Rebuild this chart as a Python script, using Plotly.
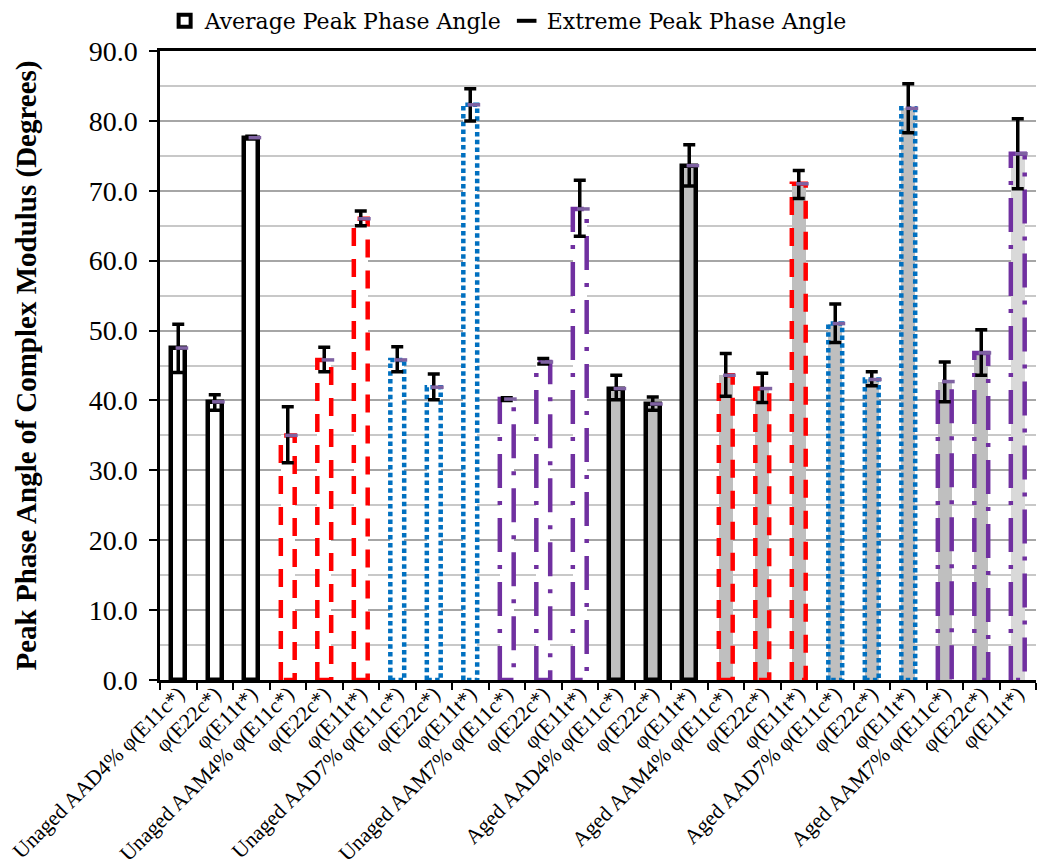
import plotly.graph_objects as go

# Sample groups (three phase-angle measures each)
groups = ["Unaged AAD4%", "Unaged AAM4%", "Unaged AAD7%", "Unaged AAM7%",
          "Aged AAD4%", "Aged AAM4%", "Aged AAD7%", "Aged AAM7%"]
measures = ["φ(E11c*)", "φ(E22c*)", "φ(E11t*)"]

categories = [
    "Unaged AAD4% φ(E11c*)", "φ(E22c*)", "φ(E11t*)",
    "Unaged AAM4% φ(E11c*)", "φ(E22c*)", "φ(E11t*)",
    "Unaged AAD7% φ(E11c*)", "φ(E22c*)", "φ(E11t*)",
    "Unaged AAM7% φ(E11c*)", "φ(E22c*)", "φ(E11t*)",
    "Aged AAD4% φ(E11c*)", "φ(E22c*)", "φ(E11t*)",
    "Aged AAM4% φ(E11c*)", "φ(E22c*)", "φ(E11t*)",
    "Aged AAD7% φ(E11c*)", "φ(E22c*)", "φ(E11t*)",
    "Aged AAM7% φ(E11c*)", "φ(E22c*)", "φ(E11t*)",
]

# Average peak phase angle (degrees)
average = [47.5, 39.8, 77.6, 35.0, 45.8, 66.0,
           45.8, 41.9, 82.3, 40.2, 45.5, 67.4,
           41.7, 39.5, 73.6, 43.6, 41.7, 71.0,
           51.0, 43.0, 81.8, 42.7, 46.8, 75.3]
# Extreme (max / min) peak phase angle (degrees)
extreme_max = [50.9, 40.8, 77.8, 39.1, 47.6, 67.1,
               47.7, 43.8, 84.6, 40.4, 46.0, 71.5,
               43.6, 40.5, 76.6, 46.7, 43.9, 72.9,
               53.8, 44.1, 85.3, 45.5, 50.1, 80.3]
extreme_min = [44.0, 38.6, 77.4, 31.1, 44.1, 65.0,
               44.1, 40.1, 80.0, 40.0, 45.2, 63.5,
               40.1, 38.6, 70.7, 40.6, 39.7, 68.9,
               48.3, 42.1, 78.3, 39.8, 43.6, 70.3]

# ---- styling ----
FONT = "Liberation Serif"
FONT_FLAT = "DejaVu Serif"
BAR_W = 0.38
EDGE_W = 4.5
border_style = {  # by binder type
    "AAD4%": dict(color="black", dash="solid"),
    "AAM4%": dict(color="#FF0000", dash="18px,13px"),
    "AAD7%": dict(color="#0070C0", dash="4.5px,3.3px"),
    "AAM7%": dict(color="#7030A0", dash="34px,13px,4px,13px"),
}
fill_unaged = "white"
fill_aged = "#BFBFBF"
fill_last = "#D9D9D9"

n = len(categories)
pos = list(range(n))
group_of = [groups[i // len(measures)] for i in pos]
binder_of = [g.split()[1] for g in group_of]

fills = []
for i in pos:
    if group_of[i].startswith("Unaged"):
        fills.append(fill_unaged)
    else:
        fills.append(fill_aged)
fills[-1] = fill_last

solid = [border_style[b]["dash"] == "solid" for b in binder_of]
line_w = [EDGE_W if s else 0 for s in solid]

fig = go.Figure()

fig.add_trace(go.Bar(
    x=pos, y=average, width=BAR_W,
    marker=dict(color=fills, line=dict(color="black", width=line_w)),
    name="Average Peak Phase Angle", showlegend=False,
    hoverinfo="skip",
))

# dashed / dotted outlines drawn as closed paths around the bars
for binder, st in border_style.items():
    if st["dash"] == "solid":
        continue
    xs, ys = [], []
    for i in pos:
        if binder_of[i] != binder:
            continue
        x0, x1 = i - BAR_W / 2, i + BAR_W / 2
        v = average[i]
        xs += [x0, x0, x1, x1, x0, None]
        ys += [0, v, v, 0, 0, None]
    fig.add_trace(go.Scatter(
        x=xs, y=ys, mode="lines",
        line=dict(color=st["color"], width=EDGE_W, dash=st["dash"]),
        showlegend=False, hoverinfo="skip",
    ))

# extreme range as error bars
fig.add_trace(go.Scatter(
    x=pos, y=average, mode="markers",
    marker=dict(size=2, opacity=0),
    error_y=dict(type="data", symmetric=False,
                 array=[h - a for h, a in zip(extreme_max, average)],
                 arrayminus=[a - l for l, a in zip(extreme_min, average)],
                 color="black", thickness=3.5, width=6),
    showlegend=False, hoverinfo="skip",
))

# average markers
fig.add_trace(go.Scatter(
    x=[p + 0.1 for p in pos], y=average, mode="markers",
    marker=dict(symbol="line-ew", size=9, line=dict(color="#7F62A2", width=3.5)),
    showlegend=False, hoverinfo="skip",
))

# legend entries
fig.add_trace(go.Scatter(
    x=[None], y=[None], mode="markers",
    marker=dict(symbol="square", size=12, color="white",
                line=dict(color="black", width=4)),
    name="Average Peak Phase Angle",
))
fig.add_trace(go.Scatter(
    x=[None], y=[None], mode="markers",
    marker=dict(symbol="line-ew", size=14, line=dict(color="black", width=4)),
    name="Extreme Peak Phase Angle",
))

fig.update_layout(
    width=1037, height=867, autosize=False,
    margin=dict(l=160, r=1, t=51, b=187, autoexpand=False),
    plot_bgcolor="white", paper_bgcolor="white",
    font=dict(family=FONT, color="black"),
    showlegend=True,
    legend=dict(orientation="h", x=0.49, xanchor="center", xref="container",
                y=1.0, yanchor="top", yref="container",
                font=dict(size=22, family=FONT_FLAT), bgcolor="rgba(0,0,0,0)",
                tracegroupgap=0),
    bargap=0,
)

fig.update_xaxes(
    range=[-0.5, n - 0.5], automargin=False,
    tickmode="array", tickvals=pos, ticktext=categories,
    tickangle=-45, ticks="", tickfont=dict(size=21.5, family=FONT),
    ticklabeloverflow="allow", ticklabelstandoff=-10,
    showline=True, linecolor="black", linewidth=2.5, mirror=True,
    showgrid=False, zeroline=False,
    minor=dict(tickmode="array", tickvals=[p - 0.5 for p in pos] + [n - 0.5],
               ticks="outside", ticklen=7, tickwidth=2, tickcolor="black",
               showgrid=False),
)

fig.update_yaxes(
    range=[0, 90], tick0=0, dtick=10, tickformat=".1f", automargin=False,
    ticks="outside", ticklen=8, tickwidth=2, tickcolor="black",
    tickangle=-0.01, tickfont=dict(size=28, family=FONT), ticklabelstandoff=6,
    showline=True, linecolor="black", linewidth=2.5,
    showgrid=True, gridcolor="#A6A6A6", gridwidth=1.5,
    minor=dict(dtick=5, showgrid=True, gridcolor="#C8C8C8", gridwidth=1.5, ticks=""),
    zeroline=False,
    title=dict(text="<b>Peak Phase Angle of Complex Modulus (Degrees)</b>",
               font=dict(size=29, family=FONT), standoff=44),
)

fig.write_html("out.html")
